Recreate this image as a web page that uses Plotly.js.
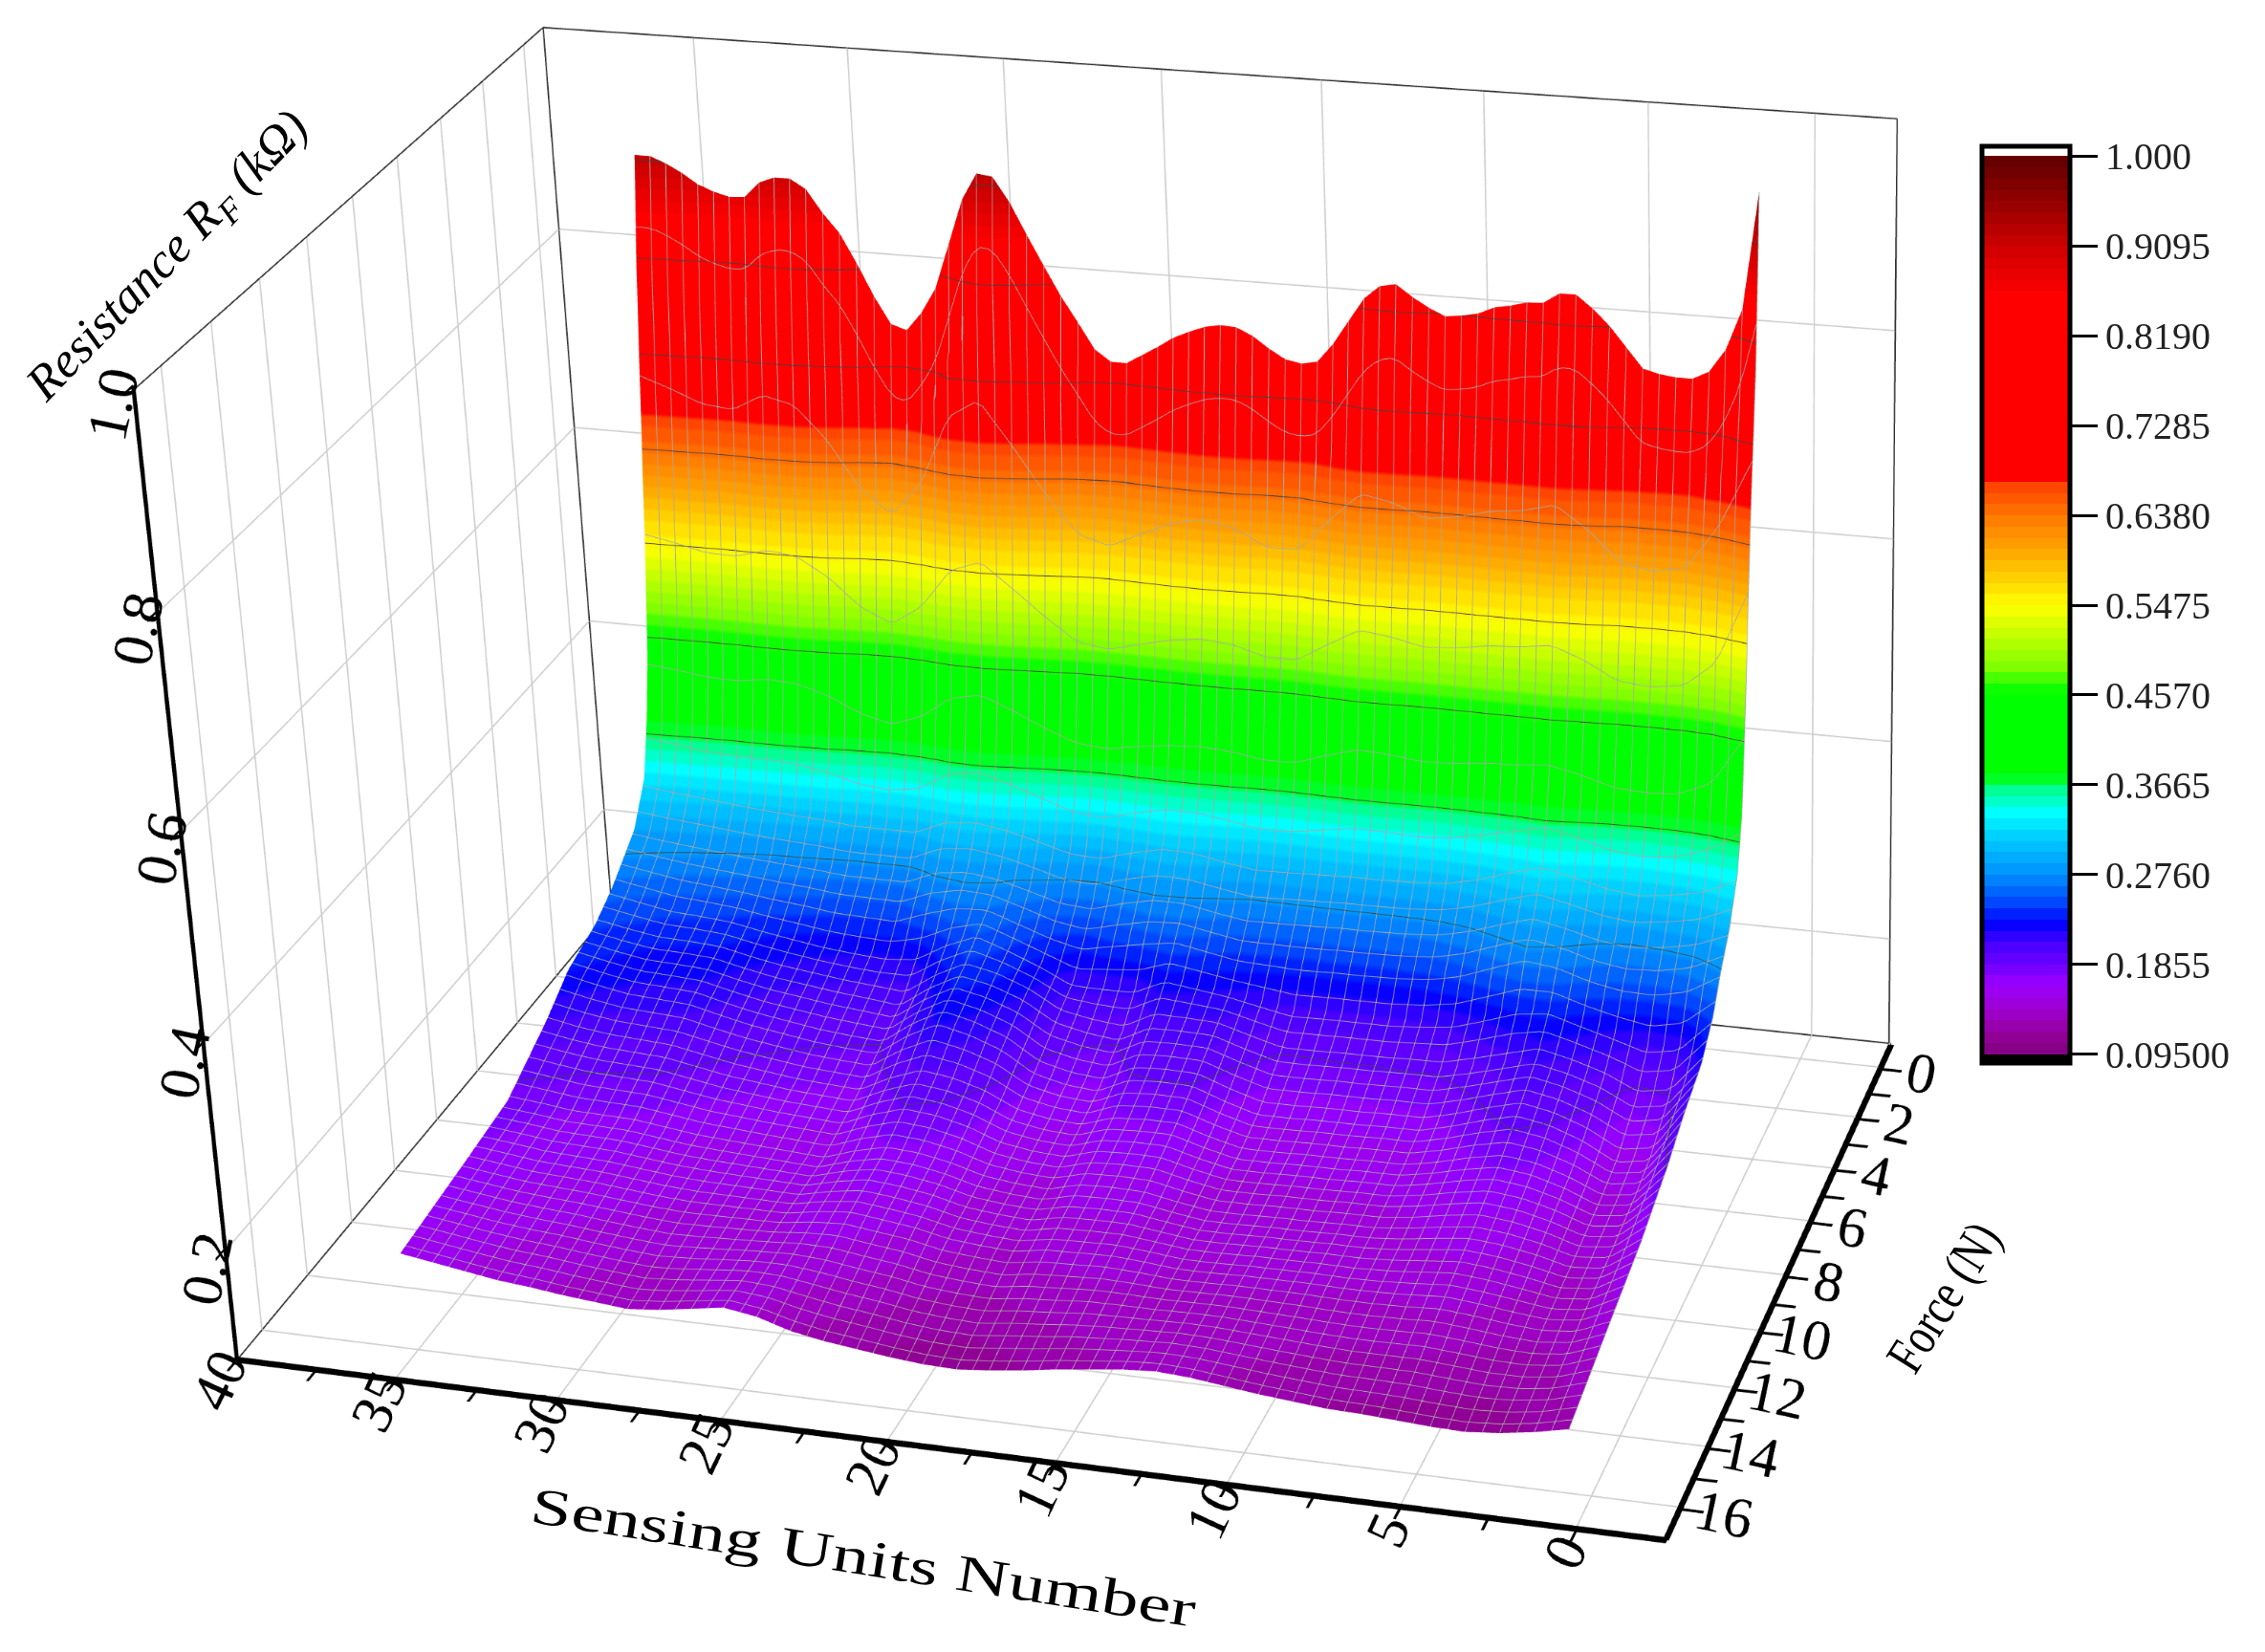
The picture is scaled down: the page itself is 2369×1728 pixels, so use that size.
<!DOCTYPE html>
<html><head><meta charset="utf-8">
<script src="https://cdn.plot.ly/plotly-3.0.1.min.js"></script>
<style>html,body{margin:0;padding:0;background:#fff;overflow:hidden}
#wrap{position:relative;width:2369px;height:1728px;overflow:hidden}
#plot{position:absolute;left:0;width:2369px}</style>
</head><body><div id="wrap"><div id="plot"></div></div>
<script>
const unitsFine=[36,35.5,35,34.5,34,33.5,33,32.5,32,31.5,31,30.5,30,29.5,29,28.5,28,27.5,27,26.5,26,25.5,25,24.5,24,23.5,23,22.5,22,21.5,21,20.5,20,19.5,19,18.5,18,17.5,17,16.5,16,15.5,15,14.5,14,13.5,13,12.5,12,11.5,11,10.5,10,9.5,9,8.5,8,7.5,7,6.5,6,5.5,5,4.5,4,3.5,3,2.5,2,1.5,1];
const forcesTop=[0.8,0.88,1.08,1.2];
const resistanceTop=[
[.914,.914,.908,.900,.890,.884,.880,.881,.896,.902,
 .902,.893,.871,.853,.825,.794,.768,.763,.781,.806,
 .850,.894,.920,.918,.895,.865,.836,.808,.784,.759,
 .748,.748,.757,.766,.776,.783,.789,.792,.791,.784,
 .773,.764,.761,.764,.782,.805,.828,.841,.844,.833,
 .824,.817,.819,.822,.829,.832,.836,.837,.847,.847,
 .835,.820,.801,.782,.778,.776,.776,.784,.806,.845,.955],
[.886,.886,.880,.872,.862,.856,.852,.853,.868,.874,
 .874,.865,.843,.825,.797,.766,.740,.735,.753,.778,
 .822,.866,.892,.890,.867,.837,.808,.780,.756,.731,
 .720,.720,.729,.738,.748,.755,.761,.764,.763,.756,
 .745,.736,.733,.736,.754,.777,.800,.813,.816,.805,
 .796,.789,.791,.794,.801,.804,.808,.809,.819,.819,
 .807,.792,.773,.754,.750,.748,.748,.756,.778,.815,.895],
[.816,.816,.810,.802,.792,.786,.782,.783,.798,.804,
 .804,.795,.773,.755,.727,.696,.670,.665,.683,.708,
 .752,.796,.822,.820,.797,.767,.738,.710,.686,.661,
 .650,.650,.659,.668,.678,.685,.691,.694,.693,.686,
 .675,.666,.663,.666,.684,.707,.730,.743,.746,.735,
 .726,.719,.721,.724,.731,.734,.738,.739,.749,.749,
 .737,.722,.703,.684,.680,.678,.678,.686,.708,.745,.790],
[.763,.757,.750,.742,.736,.733,.733,.745,.752,.752,
 .744,.727,.708,.682,.655,.635,.627,.642,.666,.705,
 .745,.766,.766,.745,.719,.693,.667,.645,.623,.614,
 .613,.620,.630,.638,.645,.650,.653,.651,.646,.637,
 .628,.626,.628,.645,.665,.683,.697,.695,.690,.682,
 .675,.677,.680,.685,.689,.692,.694,.700,.703,.692,
 .678,.660,.644,.640,.639,.641,.646,.668,.695,.722,.750]
];
const units=[36,35,34,33,32,31,30,29,28,27,26,25,24,23,22,21,20,19,18,17,16,15,14,13,12,11,10,9,8,7,6,5,4,3,2,1];
const forces=[1.08,1.2,1.35,1.5,1.65,1.8,1.95,2.2,2.55,3.2,3.9,4.5,5.4,6.8,8,10,12,15.1];
const resistance=[
[.816,.810,.792,.782,.796,.804,.773,.727,.670,.683,.752,.822,.797,.738,.686,.650,.659,.678,.691,.693,.675,.663,.684,.730,.746,.726,.721,.731,.738,.749,.737,.703,.680,.678,.708,.790],
[.763,.750,.736,.733,.752,.744,.708,.655,.627,.666,.745,.766,.719,.667,.623,.613,.630,.645,.653,.646,.628,.628,.665,.697,.690,.675,.680,.689,.694,.703,.678,.644,.639,.646,.695,.750],
[.694,.684,.672,.669,.685,.678,.648,.604,.581,.613,.679,.697,.657,.614,.578,.569,.583,.596,.602,.596,.581,.581,.612,.639,.633,.621,.625,.633,.636,.644,.623,.595,.590,.596,.638,.705],
[.625,.617,.607,.605,.618,.613,.589,.553,.535,.560,.613,.628,.596,.562,.532,.526,.536,.547,.552,.547,.535,.535,.560,.581,.577,.567,.570,.576,.579,.585,.569,.546,.542,.547,.580,.655],
[.556,.550,.543,.542,.551,.547,.529,.502,.488,.508,.547,.558,.534,.509,.487,.482,.490,.497,.501,.498,.489,.489,.507,.524,.520,.513,.515,.520,.522,.526,.514,.497,.494,.498,.523,.595],
[.492,.487,.482,.481,.488,.485,.471,.450,.439,.454,.485,.494,.475,.455,.438,.434,.440,.446,.449,.447,.440,.440,.454,.467,.464,.458,.460,.464,.465,.469,.459,.446,.444,.447,.466,.530],
[.438,.435,.431,.430,.435,.433,.423,.408,.400,.411,.433,.439,.426,.411,.399,.396,.401,.405,.407,.405,.400,.400,.411,.420,.418,.414,.415,.418,.419,.421,.414,.405,.403,.405,.419,.470],
[.380,.376,.371,.370,.371,.369,.362,.351,.346,.353,.373,.378,.367,.355,.343,.340,.348,.354,.354,.350,.344,.345,.351,.358,.357,.354,.356,.362,.367,.374,.366,.356,.353,.356,.368,.389],
[.326,.322,.319,.316,.313,.311,.309,.306,.306,.306,.319,.322,.317,.309,.300,.298,.307,.314,.313,.307,.302,.303,.304,.305,.305,.306,.308,.315,.325,.334,.327,.319,.315,.319,.325,.340],
[.289,.285,.282,.279,.276,.274,.272,.269,.269,.269,.282,.285,.280,.272,.263,.261,.270,.277,.276,.270,.265,.266,.267,.268,.268,.269,.271,.278,.288,.297,.290,.282,.278,.282,.288,.300],
[.272,.267,.262,.259,.256,.252,.249,.245,.244,.243,.255,.263,.263,.252,.241,.234,.241,.247,.251,.245,.239,.238,.237,.238,.238,.239,.241,.248,.260,.271,.266,.256,.250,.250,.257,.274],
[.258,.252,.246,.244,.241,.235,.230,.225,.222,.220,.224,.241,.253,.241,.228,.213,.213,.214,.228,.223,.218,.212,.206,.207,.207,.207,.209,.213,.223,.234,.237,.227,.218,.209,.215,.245],
[.243,.237,.232,.231,.229,.222,.216,.212,.208,.205,.201,.222,.238,.232,.220,.201,.194,.190,.206,.206,.205,.195,.186,.186,.187,.187,.188,.188,.195,.203,.212,.205,.195,.179,.184,.221],
[.231,.224,.218,.216,.214,.206,.199,.194,.189,.186,.184,.206,.222,.214,.202,.181,.173,.170,.185,.187,.186,.174,.164,.164,.165,.165,.166,.166,.174,.184,.192,.186,.174,.156,.161,.205],
[.208,.202,.198,.196,.194,.188,.182,.178,.174,.172,.170,.185,.196,.192,.183,.168,.162,.160,.170,.172,.172,.162,.154,.154,.155,.155,.156,.156,.162,.170,.176,.172,.162,.148,.152,.187],
[.178,.175,.171,.170,.169,.165,.161,.159,.157,.155,.153,.163,.170,.168,.162,.153,.149,.147,.155,.156,.155,.149,.144,.144,.145,.145,.146,.146,.149,.154,.158,.155,.149,.140,.143,.165],
[.170,.166,.162,.160,.158,.155,.152,.150,.150,.150,.150,.155,.158,.154,.150,.143,.140,.138,.143,.144,.145,.143,.140,.140,.141,.141,.141,.140,.140,.141,.143,.140,.136,.133,.136,.150],
[.159,.154,.149,.144,.141,.137,.134,.131,.134,.139,.144,.139,.129,.123,.119,.115,.112,.111,.114,.118,.123,.127,.131,.133,.131,.127,.123,.120,.117,.116,.114,.112,.111,.114,.119,.126]
];
const barTicks=[0.095,0.1855,0.276,0.3665,0.457,0.5475,0.638,0.7285,0.819,0.9095,1.0];
const barLabels=['0.09500','0.1855','0.2760','0.3665','0.4570','0.5475','0.6380','0.7285','0.8190','0.9095','1.000'];
const anchorVals=[0.095,0.11,0.14,0.166,0.184,0.209,0.227,0.245,0.276,0.313,0.338,0.365,0.375,0.46,0.485,0.516,0.547,0.575,0.60,0.632,0.67,0.675,0.86,0.91,0.95,1.0];
const anchorCols=['#800080','#900090','#a000d0','#9900ff','#7000ff','#4000ff','#0000ff','#0040ff','#0090ff','#00ccff','#00ffff','#00ff80','#00ff00','#00ff00','#80ff00','#c0ff00','#ffff00','#ffd000','#ffaa00','#ff8000','#ff4000','#ff0000','#ff0000','#cc0000','#990000','#600000'];
const xMajor=[0,5,10,15,20,25,30,35,40],yMajor=[0,2,4,6,8,10,12,14,16],zMajor=[.2,.4,.6,.8,1];
const CMIN=0.086,CMAX=1.01,XR=[-2.5,40],YR=[-1,17],ZR=[0.09,1.0];
function hex(c){return [1,3,5].map(i=>parseInt(c.substr(i,2),16));}
function colorAt(v){let i=0;while(i<anchorVals.length-2&&v>anchorVals[i+1])i++;
 const t=Math.max(0,Math.min(1,(v-anchorVals[i])/(anchorVals[i+1]-anchorVals[i])));const a=hex(anchorCols[i]),b=hex(anchorCols[i+1]);
 return 'rgb('+a.map((q,k)=>Math.round(q+(b[k]-q)*t)).join(',')+')';}
function buildScale(){const s=[];const n=80;const nv=v=>(v-CMIN)/(CMAX-CMIN);
 s.push([0,'#000000']);s.push([nv(0.095),'#000000']);
 for(let i=0;i<n;i++){const lo=0.095+0.905*i/n,hi=0.095+0.905*(i+1)/n,c=colorAt((lo+hi)/2);s.push([nv(lo),c]);s.push([nv(hi),c]);}
 s.push([nv(1.0),'#ffffff']);s.push([1,'#ffffff']);return s;}
const W=2369,H=1728;
const SHEET=Math.round(2*7400*Math.tan(Math.PI/8));
const TOP=Math.round((H-SHEET)/2);
document.getElementById('plot').style.top=TOP+'px';
document.getElementById('plot').style.height=SHEET+'px';
const px=x=>x/W, py=y=>1-(y-TOP)/SHEET;
const tf={family:'Liberation Serif',size:27,color:'#000'};
const axBase={showbackground:true,backgroundcolor:'#fff',showgrid:false,showline:true,linecolor:'#000',linewidth:13,ticks:'outside',ticklen:20,tickwidth:6,tickcolor:'#000',zeroline:false,showspikes:false,tickfont:tf,tickmode:'array'};
const xt=[],xl=[];for(let v=0;v<=40;v+=2.5){xt.push(v);xl.push(v%5===0?String(v):'');}
const yt=[],yl=[];for(let v=0;v<=16;v++){yt.push(v);yl.push(v%2===0?String(v):'');}
const contourStyle={x:{show:true,start:1,end:36,size:0.5,color:'#a8a8a8',width:1},
  y:{show:true,start:0,end:15.5,size:0.33,color:'#a8a8a8',width:1},
  z:{show:true,start:0.095,end:0.95,size:0.0905,color:'#444',width:5}};
const lit={ambient:1,diffuse:0,specular:0,roughness:1,fresnel:0};
const scale=buildScale();
// frame and grid sit a hair inside the box so they do not fight with the white walls
const xa=XR[0]+0.06,xb=XR[1]-0.06,ya=YR[0]+0.03,yb=YR[1]-0.03,za=ZR[0]+0.002,zb=ZR[1]-0.002;
const gx=[],gy=[],gz=[];
function seg(a,b){gx.push(a[0],b[0],null);gy.push(a[1],b[1],null);gz.push(a[2],b[2],null);}
xMajor.forEach(v=>{const q=Math.min(v,xb);seg([q,ya,za],[q,yb,za]);seg([q,ya,za],[q,ya,zb]);});
yMajor.forEach(v=>{seg([xa,v,za],[xb,v,za]);seg([xb,v,za],[xb,v,zb]);});
zMajor.forEach(v=>{const q=Math.min(v,zb);seg([xb,ya,q],[xb,yb,q]);seg([xa,ya,q],[xb,ya,q]);});
const fx=[],fy=[],fz=[];
[[[xb,yb,zb],[xb,ya,zb]],[[xb,ya,zb],[xa,ya,zb]],[[xa,ya,zb],[xa,ya,za]],[[xb,ya,zb],[xb,ya,za]],[[xb,ya,za],[xa,ya,za]],[[xb,yb,za],[xb,ya,za]]].forEach(s=>{fx.push(s[0][0],s[1][0],null);fy.push(s[0][1],s[1][1],null);fz.push(s[0][2],s[1][2],null);});
const data=[
 {type:'scatter3d',mode:'lines',hoverinfo:'skip',showlegend:false,line:{color:'#cfcfcf',width:3},x:gx,y:gy,z:gz},
 {type:'scatter3d',mode:'lines',hoverinfo:'skip',showlegend:false,line:{color:'#333',width:3},x:fx,y:fy,z:fz},
 {type:'surface',x:units.slice().reverse(),y:forces,z:resistance.map(r=>r.slice().reverse()),cmin:CMIN,cmax:CMAX,colorscale:scale,hoverinfo:'skip',lighting:lit,contours:contourStyle,
 colorbar:{x:2073/W,xanchor:'left',xpad:0,y:py(632.5),yanchor:'middle',ypad:0,lenmode:'pixels',len:959,thicknessmode:'pixels',thickness:92,outlinecolor:'#000',outlinewidth:5,borderwidth:0,
  tickmode:'array',tickvals:barTicks,ticktext:barLabels,ticks:'outside',ticklen:27,tickwidth:3,tickcolor:'#000',tickfont:{family:'Liberation Serif',size:40,color:'#222'}}},
 {type:'surface',showscale:false,x:unitsFine.slice().reverse(),y:forcesTop,z:resistanceTop.map(r=>r.slice().reverse()),cmin:CMIN,cmax:CMAX,colorscale:scale,hoverinfo:'skip',lighting:lit,contours:contourStyle}];
const layout={width:W,height:SHEET,margin:{l:0,r:0,t:0,b:0},paper_bgcolor:'#fff',showlegend:false,
 scene:{domain:{x:[0,1],y:[0,1]},aspectmode:'manual',aspectratio:{x:1.3958,y:0.9923,z:1},
  camera:{eye:{x:-1.9766,y:5.8093,z:2.8296},center:{x:-0.4644,y:1.2277,z:0.5284},up:{x:0.0947,y:-0.4217,z:0.9018},projection:{type:'perspective'}},
  xaxis:Object.assign({},axBase,{range:XR,tickvals:xt,ticktext:xl,tickangle:-65,title:{text:''}}),
  yaxis:Object.assign({},axBase,{range:YR,tickvals:yt,ticktext:yl,tickangle:12,title:{text:''}}),
  zaxis:Object.assign({},axBase,{range:ZR,tickvals:zMajor,ticktext:['0.2','0.4','0.6','0.8','1.0'],tickangle:-78,linewidth:9,title:{text:''}})},
 annotations:[
  {xref:'paper',yref:'paper',x:px(177),y:py(270),xanchor:'center',yanchor:'middle',showarrow:false,textangle:-46,text:'<i>Resistance R<sub>F</sub> (kΩ)</i>',font:{family:'Liberation Serif',size:52,color:'#000'}},
  {xref:'paper',yref:'paper',x:px(903),y:py(1629),xanchor:'center',yanchor:'middle',showarrow:false,textangle:9,text:'Sensing Units Number',font:{family:'Liberation Serif',size:54,color:'#000'}},
  {xref:'paper',yref:'paper',x:px(2032),y:py(1357),xanchor:'center',yanchor:'middle',showarrow:false,textangle:-58,text:'Force (N)',font:{family:'Liberation Serif',size:56,color:'#000'}}]};
Plotly.newPlot('plot',data,layout,{displayModeBar:false,responsive:false,plotGlPixelRatio:1.3}).then(gd=>{
 const nodes=[...gd.querySelectorAll('.annotation-text')];
 const fit=(start,len)=>{const t=nodes.find(n=>n.textContent.startsWith(start));if(t){t.setAttribute('textLength',len);t.setAttribute('lengthAdjust','spacingAndGlyphs');}};
 fit('Sensing','703');fit('Force','172');
});
</script></body></html>
